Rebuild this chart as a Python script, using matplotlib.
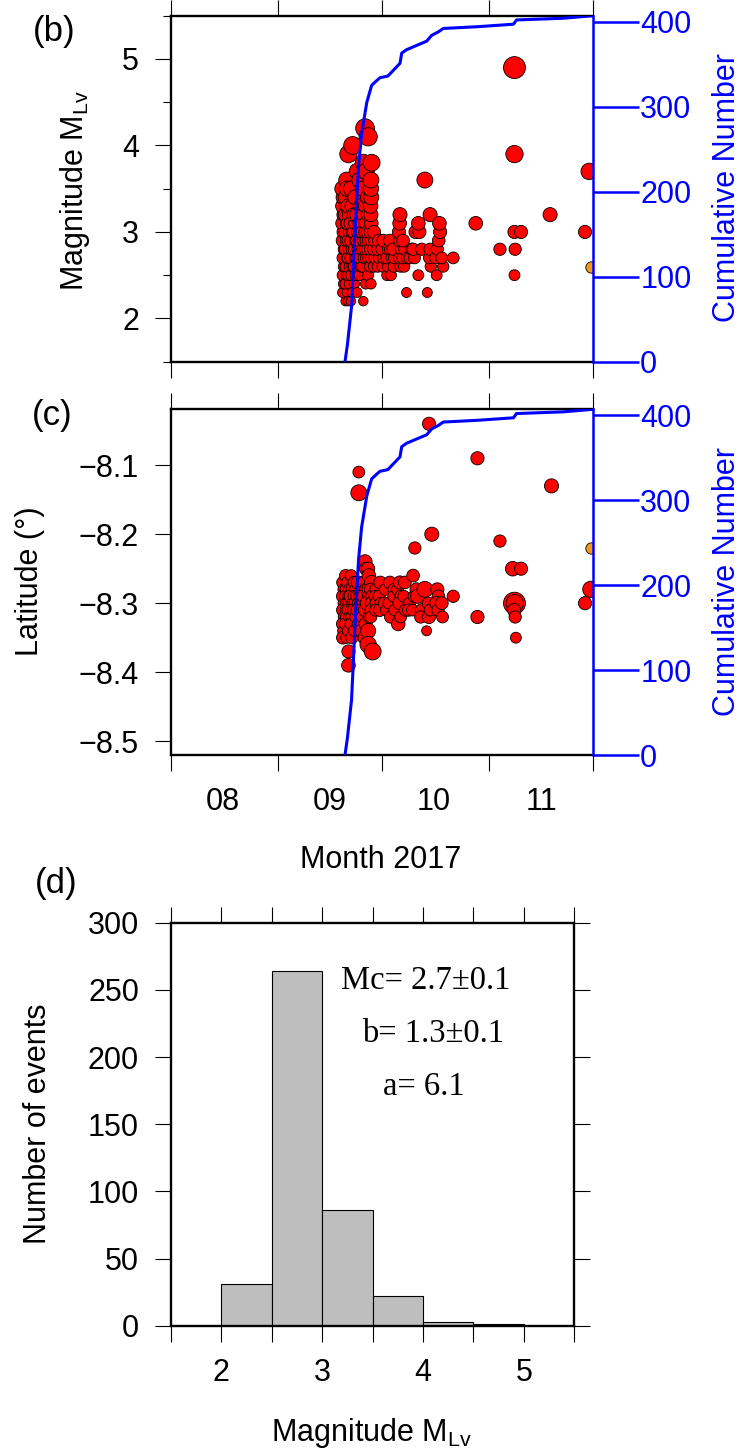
import numpy as np
import pandas as pd
import matplotlib
matplotlib.use("Agg")
import matplotlib.pyplot as plt
import matplotlib.dates as mdates
from matplotlib.ticker import MultipleLocator, NullFormatter

plt.rcParams['font.family'] = ['Liberation Sans', 'DejaVu Sans']
plt.rcParams['mathtext.default'] = 'regular'

START = pd.Timestamp('2017-08-01')
END = pd.Timestamp('2017-12-01')

# (days after 1 Aug 2017, magnitude MLv)
mag_events = [
    (49.6, 2.3), (49.9, 2.4), (49.6, 2.5), (50.0, 2.6), (49.7, 2.7), (50.1, 2.8), (49.6, 2.9),
    (49.9, 3.0), (49.6, 3.1), (50.0, 3.2), (49.7, 3.3), (49.9, 3.4), (49.6, 3.5), (50.8, 3.6),
    (50.5, 2.2), (50.9, 2.3), (50.4, 2.4), (50.8, 2.5), (50.5, 2.6), (50.9, 2.7), (50.4, 2.8),
    (50.8, 2.9), (50.5, 3.0), (50.9, 3.1), (50.4, 3.2), (50.8, 3.3), (50.5, 3.4), (50.9, 3.5),
    (51.2, 2.2), (51.6, 2.4), (51.3, 2.5), (51.7, 2.6), (51.2, 2.7), (51.6, 2.8), (51.3, 2.9),
    (51.7, 3.0), (51.2, 3.1), (51.6, 3.2), (51.3, 3.3), (51.3, 3.9),
    (52.0, 2.2), (52.4, 2.3), (52.1, 2.5), (52.5, 2.6), (52.0, 2.7), (52.4, 2.8), (52.1, 2.9),
    (52.5, 3.0), (52.0, 3.1), (52.4, 3.3), (52.1, 3.5), (52.5, 4.0),
    (53.0, 2.4), (53.3, 2.5), (52.9, 2.6), (53.3, 2.7), (53.0, 2.8), (53.4, 2.9), (52.9, 3.0),
    (53.3, 3.1), (53.0, 3.2), (53.3, 3.4),
    (53.8, 2.3), (54.0, 2.6), (53.7, 2.7), (54.1, 2.8), (53.8, 2.9), (54.1, 3.0), (53.7, 3.2),
    (53.9, 3.7),
    (54.5, 2.5), (54.9, 2.6), (54.6, 2.7), (54.9, 2.8), (54.5, 2.9), (54.8, 3.0), (54.6, 3.1),
    (54.9, 3.3), (54.6, 3.6),
    (55.6, 2.2), (55.4, 2.6), (55.8, 2.7), (55.5, 2.8), (55.8, 2.9), (55.4, 3.0), (55.7, 3.2),
    (55.5, 3.5), (55.7, 3.8),
    (56.1, 4.2), (56.3, 2.4), (56.5, 2.7), (56.2, 2.8), (56.5, 2.9), (56.2, 3.0), (56.4, 3.1),
    (56.3, 3.3), (56.4, 3.7),
    (57.0, 4.1), (57.0, 2.5), (57.2, 2.7), (56.9, 2.8), (57.2, 2.9), (56.9, 3.0), (57.1, 3.2),
    (57.0, 3.4),
    (57.8, 2.4), (57.6, 2.6), (57.9, 2.7), (57.7, 2.8), (58.0, 2.9), (57.7, 3.0), (57.9, 3.1),
    (57.8, 3.2), (57.7, 3.3), (57.9, 3.4), (57.8, 3.5), (57.8, 3.6), (58.0, 3.8),
    (58.7, 2.6), (59.0, 2.7), (58.6, 2.8), (59.0, 2.9), (58.7, 3.0),
    (59.8, 2.6), (60.2, 2.7), (59.8, 2.8), (60.1, 2.9),
    (61.2, 2.6), (61.5, 2.7), (61.0, 2.8), (61.4, 2.9),
    (62.5, 2.5), (62.8, 2.6), (62.4, 2.7), (62.9, 2.8),
    (63.6, 2.5), (63.9, 2.7), (63.5, 2.8), (63.3, 2.9),
    (64.4, 2.6), (64.6, 2.7), (64.2, 2.8),
    (66.4, 2.6), (66.0, 2.7), (66.6, 2.8), (66.2, 2.9), (65.9, 3.0), (66.1, 3.1), (66.2, 3.2),
    (67.4, 2.6), (67.0, 2.7), (67.6, 2.8), (67.1, 2.9),
    (68.1, 2.3), (68.3, 2.7),
    (69.1, 2.7), (69.6, 2.8),
    (70.4, 2.7), (70.0, 2.8), (70.7, 3.0),
    (71.5, 2.5), (71.8, 3.0), (71.5, 3.1),
    (72.5, 2.8), (73.4, 3.6), (74.1, 2.3),
    (75.1, 2.6), (74.7, 2.7), (74.9, 2.8), (74.9, 3.2),
    (76.8, 2.5), (76.5, 2.7), (77.0, 2.8),
    (77.4, 2.9), (77.8, 3.0), (77.6, 3.1),
    (78.7, 2.6), (78.3, 2.7), (81.6, 2.7),
    (88.1, 3.1), (95.1, 2.8),
    (99.3, 4.9), (99.3, 3.9), (99.3, 3.0), (101.2, 3.0), (99.5, 2.8), (99.3, 2.5),
    (109.6, 3.2), (119.7, 3.0), (120.9, 3.7),
]

# (days after 1 Aug 2017, latitude, magnitude MLv)
lat_events = [
    (49.6, -8.27, 2.7), (49.9, -8.28, 2.6), (49.6, -8.29, 2.8), (50.0, -8.30, 2.7),
    (49.7, -8.31, 2.9), (50.0, -8.32, 2.6), (49.6, -8.33, 2.8), (49.9, -8.34, 2.7),
    (49.7, -8.35, 2.9),
    (50.5, -8.26, 2.8), (50.8, -8.28, 3.0), (50.4, -8.29, 2.7), (50.9, -8.30, 2.9),
    (50.5, -8.31, 2.6), (50.8, -8.32, 2.8), (50.4, -8.33, 2.7), (50.7, -8.35, 2.6),
    (51.3, -8.37, 3.0),
    (51.2, -8.27, 2.9), (51.6, -8.28, 2.7), (51.3, -8.29, 2.6), (51.7, -8.30, 3.1),
    (51.2, -8.31, 2.8), (51.6, -8.32, 2.7), (51.3, -8.34, 2.8), (51.3, -8.39, 3.1),
    (52.1, -8.26, 2.7), (52.4, -8.28, 2.8), (52.0, -8.29, 3.0), (52.5, -8.30, 2.6),
    (52.1, -8.31, 2.7), (52.4, -8.32, 2.9), (52.0, -8.33, 2.6), (52.3, -8.35, 2.8),
    (53.0, -8.27, 2.8), (53.3, -8.28, 2.6), (52.9, -8.29, 2.7), (53.3, -8.30, 2.9),
    (53.0, -8.31, 3.0), (53.4, -8.32, 2.7), (53.0, -8.34, 2.6),
    (54.0, -8.27, 3.0), (53.8, -8.29, 2.8), (54.2, -8.30, 2.7), (53.9, -8.31, 2.9),
    (54.1, -8.33, 2.7), (54.3, -8.11, 2.7), (54.3, -8.14, 3.6),
    (55.0, -8.28, 2.7), (54.7, -8.29, 2.9), (55.1, -8.30, 3.1), (54.8, -8.31, 2.8),
    (55.2, -8.32, 2.6), (54.9, -8.34, 2.9),
    (56.1, -8.24, 3.2), (56.3, -8.25, 2.9), (55.9, -8.27, 3.0), (56.3, -8.28, 2.8),
    (56.0, -8.29, 3.3), (56.4, -8.30, 2.7), (56.0, -8.31, 2.9), (56.3, -8.33, 3.0),
    (56.1, -8.35, 3.2),
    (57.0, -8.25, 3.0), (57.2, -8.26, 3.1), (56.9, -8.28, 2.7), (57.2, -8.29, 2.9),
    (57.0, -8.30, 3.5), (57.3, -8.32, 2.8), (57.0, -8.34, 3.4), (57.0, -8.36, 3.7),
    (58.0, -8.27, 3.2), (57.8, -8.28, 2.9), (58.2, -8.29, 3.0), (57.9, -8.30, 2.8),
    (58.1, -8.31, 3.1), (57.8, -8.32, 2.7), (58.3, -8.37, 3.8),
    (59.3, -8.28, 2.8), (59.0, -8.29, 2.7), (59.5, -8.30, 3.0), (59.2, -8.31, 2.8),
    (60.5, -8.27, 2.9), (60.2, -8.29, 2.8), (60.7, -8.30, 2.7), (60.4, -8.31, 2.9),
    (62.0, -8.28, 2.7), (61.7, -8.30, 2.8), (62.2, -8.31, 2.6),
    (63.3, -8.27, 2.9), (63.0, -8.30, 2.7), (63.5, -8.32, 2.8),
    (64.5, -8.28, 2.8), (64.3, -8.29, 2.6), (64.7, -8.31, 2.7),
    (65.7, -8.33, 3.1), (65.5, -8.28, 2.7),
    (66.2, -8.27, 3.0), (66.5, -8.29, 2.8), (66.0, -8.30, 2.9), (66.4, -8.32, 2.7),
    (67.6, -8.27, 2.9), (67.3, -8.29, 2.7), (67.8, -8.31, 2.8),
    (69.0, -8.30, 2.7), (68.7, -8.31, 2.8),
    (70.0, -8.26, 2.9), (70.3, -8.29, 2.8), (69.8, -8.31, 2.7), (70.5, -8.22, 2.8),
    (71.0, -8.28, 3.0), (71.3, -8.29, 3.2),
    (72.5, -8.31, 2.9), (72.2, -8.32, 2.8), (73.4, -8.28, 3.6), (73.9, -8.34, 2.3),
    (74.4, -8.30, 2.8), (74.6, -8.32, 3.0), (74.6, -8.04, 3.0), (74.9, -8.31, 2.7),
    (75.4, -8.20, 3.2),
    (77.0, -8.28, 3.0), (77.3, -8.29, 2.9), (76.8, -8.30, 3.1), (77.2, -8.31, 2.8),
    (78.3, -8.30, 2.9), (78.5, -8.32, 2.7), (81.6, -8.29, 2.8),
    (88.6, -8.09, 3.0), (88.6, -8.32, 3.0), (95.1, -8.21, 2.8),
    (98.8, -8.25, 3.3), (101.2, -8.25, 3.0),
    (99.3, -8.30, 4.9), (99.4, -8.30, 3.9), (99.2, -8.31, 3.0), (99.5, -8.32, 2.8),
    (99.7, -8.35, 2.5),
    (110.0, -8.13, 3.2), (119.7, -8.30, 3.0), (121.4, -8.28, 3.7),
]

# last event of the catalogue (drawn in orange)
last_day = 121.4
last_mag = 2.6
last_lat = -8.22

# cumulative number of events
cum_days = [50.3, 51.0, 52.2, 53.2, 54.2, 55.1, 56.6, 58.0, 59.3, 60.4, 62.7, 64.8, 66.2,
            66.7, 68.1, 71.0, 73.9, 75.4, 77.3, 78.7, 88.4, 99.0, 99.9, 113.4, 122.0]
cum_count = [0, 20, 65, 152, 229, 268, 305, 325, 330, 334, 336, 345, 351,
             363, 367, 372, 377, 384, 388, 392, 394, 397, 402, 404, 407]

# magnitude histogram, 0.5 bins
hist_left = [2.0, 2.5, 3.0, 3.5, 4.0, 4.5]
hist_count = [31, 264, 86, 22, 3, 1]
gr_text = ['Mc= 2.7\u00b10.1', 'b= 1.3\u00b10.1', 'a= 6.1']

W, H = 740, 1449
fig = plt.figure(figsize=(W / 100, H / 100), dpi=100)


def box(left, top, right, bottom):
    return [left / W, 1 - bottom / H, (right - left) / W, (bottom - top) / H]


def ftext(x, y, s, **kw):
    fig.text(x / W, 1 - y / H, s, ha='center', va='center', **kw)


def to_dates(days):
    return START + pd.to_timedelta(np.asarray(days, dtype=float), unit='D')


def msize(m):
    d_px = 4.6 * np.asarray(m) - 0.6
    return (d_px * 0.72) ** 2


def time_axes(ax, labels):
    ax.set_xlim(START, END)
    ax.xaxis.set_major_locator(mdates.MonthLocator())
    ax.xaxis.set_major_formatter(NullFormatter())
    ax.xaxis.set_minor_locator(mdates.MonthLocator(bymonthday=16))
    if labels:
        ax.xaxis.set_minor_formatter(mdates.DateFormatter('%m'))
    else:
        ax.xaxis.set_minor_formatter(NullFormatter())
    ax.tick_params(axis='x', which='major', direction='out', length=11.5, width=0.8,
                   top=True, bottom=True)
    ax.tick_params(axis='x', which='minor', length=0, pad=23, labelsize=22)
    for s in ['left', 'top', 'bottom']:
        ax.spines[s].set_linewidth(1.7)
    ax.spines['right'].set_visible(False)


def cumulative(ax):
    ax2 = ax.twinx()
    ax2.plot(to_dates(cum_days), cum_count, color='blue', lw=2.2)
    ax2.set_ylim(0, 407)
    ax2.set_yticks([0, 100, 200, 300, 400])
    ax2.tick_params(axis='y', colors='blue', length=33, width=1.8, direction='out',
                    labelsize=22, pad=1)
    for s in ['left', 'top', 'bottom']:
        ax2.spines[s].set_visible(False)
    ax2.spines['right'].set_color('blue')
    ax2.spines['right'].set_linewidth(1.8)
    return ax2


# (b) magnitude vs time
ax_b = fig.add_axes(box(171, 15.7, 593, 361.7))
bd, bm = np.array(mag_events).T
ax_b.scatter(to_dates(bd), bm, s=msize(bm), c='red', edgecolors='black', linewidths=0.6)
ax_b.scatter(to_dates([last_day]), [last_mag], s=msize([last_mag]), c='#f39a1e',
             edgecolors='black', linewidths=0.6)
time_axes(ax_b, labels=False)
ax_b.set_ylim(1.5, 5.5)
ax_b.yaxis.set_major_locator(MultipleLocator(1))
ax_b.yaxis.set_minor_locator(MultipleLocator(0.5))
ax_b.tick_params(axis='y', which='major', direction='out', length=11.5, width=0.8,
                 labelsize=22, pad=11.5, right=False)
ax_b.tick_params(axis='y', which='minor', direction='out', length=5.8, width=0.8, right=False)
cumulative(ax_b)

# (c) latitude vs time
ax_c = fig.add_axes(box(171, 409.3, 593, 755))
cd, cl, cm = np.array(lat_events).T
ax_c.scatter(to_dates(cd), cl, s=msize(cm), c='red', edgecolors='black', linewidths=0.6)
ax_c.scatter(to_dates([last_day]), [last_lat], s=msize([last_mag]), c='#f39a1e',
             edgecolors='black', linewidths=0.6)
time_axes(ax_c, labels=True)
ax_c.set_ylim(-8.52, -8.019)
ax_c.set_yticks([-8.5, -8.4, -8.3, -8.2, -8.1])
ax_c.tick_params(axis='y', which='major', direction='out', length=11.5, width=0.8,
                 labelsize=22, pad=11.5, right=False)
cumulative(ax_c)

# (d) frequency-magnitude histogram
ax_d = fig.add_axes(box(171, 922.7, 574.3, 1325.7))
ax_d.bar(hist_left, hist_count, width=0.5, align='edge', color='#bebebe',
         edgecolor='black', linewidth=0.8)
ax_d.set_xlim(1.5, 5.5)
ax_d.set_ylim(0, 300)
ax_d.xaxis.set_major_locator(MultipleLocator(1))
ax_d.xaxis.set_minor_locator(MultipleLocator(0.5))
ax_d.yaxis.set_major_locator(MultipleLocator(50))
ax_d.tick_params(axis='both', which='both', direction='out', length=11.5, width=0.8,
                 top=True, right=True, labelsize=22)
ax_d.tick_params(axis='x', which='major', pad=12)
ax_d.tick_params(axis='y', which='major', pad=11.5)
for s in ax_d.spines.values():
    s.set_linewidth(1.7)
for (x, y), s in zip([(4.03, 257), (4.10, 217), (4.01, 178)], gr_text):
    ax_d.text(x, y, s, ha='center', va='center', fontsize=23.5,
              family=['Liberation Serif', 'DejaVu Serif'])

# panel letters and axis titles
ftext(54, 32, '(b)', fontsize=25)
ftext(75, 190, 'Magnitude M$_{Lv}$', fontsize=22, rotation=90)
ftext(727, 188, 'Cumulative Number', fontsize=22, rotation=90, color='blue')
ftext(52, 415, '(c)', fontsize=25)
ftext(30, 581, 'Latitude (\u00b0)', fontsize=22, rotation=90)
ftext(727, 581, 'Cumulative Number', fontsize=22, rotation=90, color='blue')
ftext(381, 860, 'Month 2017', fontsize=22)
ftext(56, 883, '(d)', fontsize=25)
ftext(38, 1124, 'Number of events', fontsize=22, rotation=90)
ftext(372, 1433, 'Magnitude M$_{Lv}$', fontsize=22)

fig.savefig('out.png', dpi=100)
